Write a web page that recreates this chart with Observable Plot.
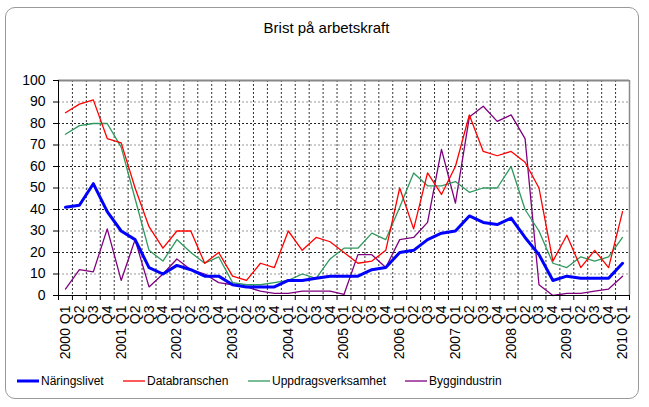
<!DOCTYPE html>
<html><head><meta charset="utf-8">
<script src="https://cdn.jsdelivr.net/npm/d3@7"></script>
<script src="https://cdn.jsdelivr.net/npm/@observablehq/plot@0.6"></script>
<style>
body{margin:0;background:#fff;font-family:"Liberation Sans",Arial,sans-serif;color:#000;}
#wrap{position:relative;width:649px;height:407px;overflow:hidden;}
#frame{position:absolute;left:5px;top:7px;width:634px;height:392px;border:1.5px solid #999;border-radius:10px;box-sizing:border-box;}
#title{position:absolute;left:2px;width:649px;top:20px;line-height:15px;text-align:center;font-size:15px;}
#chart{position:absolute;left:0;top:0;}
.leg{position:absolute;top:374px;line-height:14px;font-size:12px;display:flex;align-items:center;white-space:nowrap;}
.leg svg{margin-right:2px;}
</style></head><body>
<div id="wrap"><div id="frame"></div><div id="title">Brist på arbetskraft</div><div id="chart"></div><div id="legend"></div></div>
<script>
const quarters = ["2000 Q1","Q2","Q3","Q4","2001 Q1","Q2","Q3","Q4","2002 Q1","Q2","Q3","Q4",
  "2003 Q1","Q2","Q3","Q4","2004 Q1","Q2","Q3","Q4","2005 Q1","Q2","Q3","Q4",
  "2006 Q1","Q2","Q3","Q4","2007 Q1","Q2","Q3","Q4","2008 Q1","Q2","Q3","Q4",
  "2009 Q1","Q2","Q3","Q4","2010 Q1"];
const seriesNames = ["Näringslivet","Databranschen","Uppdragsverksamhet","Byggindustrin"];
const seriesColors = ["#0000ff","#ff0000","#2e9a5e","#800080"];
const naringslivet = [41,42,52,39,30,26,13,10,14,12,9,9,5,4,4,4,7,7,8,9,9,9,12,13,20,21,26,29,30,37,34,33,36,27,19,7,9,8,8,8,15];
const databranschen = [85,89,91,73,71,50,32,22,30,30,15,20,9,7,15,13,30,21,27,25,20,15,16,21,50,31,57,47,60,84,67,65,67,62,50,16,28,13,21,13,39];
const uppdrag = [75,79,80,80,69,45,21,16,26,20,15,18,6,5,5,6,7,10,8,17,22,22,29,26,41,57,51,51,53,48,50,50,60,40,30,15,13,18,16,18,27];
const bygg = [3,12,11,31,7,26,4,10,17,12,10,6,5,4,2,1,1,2,2,2,0.5,19,19,13,26,27,34,68,43,83,88,81,84,73,5,0,1,1,2,3,9];
const yTicks = [0,10,20,30,40,50,60,70,80,90,100];

const allValues = [naringslivet, databranschen, uppdrag, bygg];
const rows = [];
allValues.forEach((arr, s) => arr.forEach((v, i) => rows.push({i, v, s: seriesNames[s]})));
const n = quarters.length;
const idx = d3.range(n);
const bounds = d3.range(n + 1).map(i => i - 0.5);
const inner = bounds.slice(1, -1);

const lineMark = (s, w) => Plot.line(rows.filter(r => r.s === seriesNames[s]), {x: "i", y: "v", stroke: seriesColors[s], strokeWidth: w, strokeLinejoin: "round"});

const chart = Plot.plot({
  width: 649, height: 370,
  marginLeft: 58, marginRight: 20, marginTop: 80, marginBottom: 75,
  style: {fontFamily: "Liberation Sans, Arial, sans-serif", fontSize: "14px", color: "#000", background: "transparent"},
  x: {domain: [-0.5, n - 0.5]},
  y: {domain: [0, 100]},
  marks: [
    Plot.gridY({ticks: [10,30,50,70,90], stroke: "#999", strokeOpacity: 1, strokeDasharray: "2,2"}),
    Plot.gridY({ticks: [20,40,60,80], stroke: "#222", strokeOpacity: 1, strokeDasharray: "2,2"}),
    Plot.gridX({ticks: inner, stroke: "#333", strokeOpacity: 1, strokeDasharray: "2,2"}),
    Plot.ruleY([100], {stroke: "#888", strokeWidth: 2}),
    Plot.ruleX([n - 0.5], {stroke: "#888", strokeWidth: 1.5}),
    lineMark(3, 1.3),
    lineMark(2, 1.3),
    lineMark(1, 1.3),
    lineMark(0, 3),
    Plot.ruleX([-0.5], {stroke: "#000"}),
    Plot.ruleY([0], {stroke: "#000"}),
    Plot.axisY({ticks: yTicks, tickSize: 5, tickPadding: 8, fontSize: 14, label: null}),
    Plot.axisX({ticks: bounds, tickSize: 5, tickFormat: () => "", label: null}),
    Plot.axisX({ticks: idx, tickSize: 0, tickPadding: 10, tickRotate: -90, tickFormat: i => quarters[i], fontSize: 14, label: null})
  ]
});
document.getElementById("chart").appendChild(chart);

const legendLeft = [17, 123, 248, 405];
const legend = document.getElementById("legend");
seriesNames.forEach((name, s) => {
  const d = document.createElement("div");
  d.className = "leg";
  d.style.left = legendLeft[s] + "px";
  d.innerHTML = `<svg width="22" height="10"><line x1="0" x2="22" y1="5" y2="5" stroke="${seriesColors[s]}" stroke-width="${s === 0 ? 3 : 1.3}"/></svg><span>${name}</span>`;
  legend.appendChild(d);
});
</script>
</body></html>
